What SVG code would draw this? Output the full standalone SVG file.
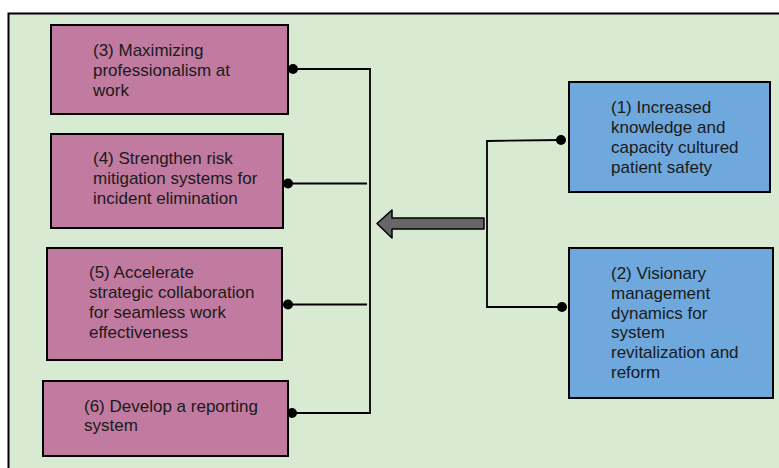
<svg xmlns="http://www.w3.org/2000/svg" width="779" height="468" viewBox="0 0 779 468">
<style>
.pink{fill:#c27ba0;stroke:#000;stroke-width:2}
.blue{fill:#6fa8dc;stroke:#000;stroke-width:2}
text{font-family:"Liberation Sans",Arial,sans-serif;font-size:17px;fill:#1a1a1a}
.ln{fill:none;stroke:#000;stroke-width:1.8}
.dot{fill:#000}
</style>
<rect x="0" y="0" width="779" height="468" fill="#fff"/>
<rect x="8.5" y="13.5" width="790" height="470" fill="#d9ead3" stroke="#000" stroke-width="2"/>
<g id="node3"><rect class="pink" x="51" y="25" width="237" height="89"/>
<text x="93" y="56">(3) Maximizing</text><text x="93" y="76">professionalism at</text><text x="93" y="96">work</text></g>
<g id="node4"><rect class="pink" x="51" y="134" width="232" height="94"/>
<text x="93" y="164">(4) Strengthen risk</text><text x="93" y="184">mitigation systems for</text><text x="93" y="204">incident elimination</text></g>
<g id="node5"><rect class="pink" x="47" y="248" width="235" height="112"/>
<text x="89" y="278">(5) Accelerate</text><text x="89" y="298">strategic collaboration</text><text x="89" y="318">for seamless work</text><text x="89" y="338">effectiveness</text></g>
<g id="node6"><rect class="pink" x="43" y="381" width="245" height="75"/>
<text x="84" y="412">(6) Develop a reporting</text><text x="84" y="431">system</text></g>
<g id="node1"><rect class="blue" x="569" y="82" width="201" height="110"/>
<text x="611" y="113">(1) Increased</text><text x="611" y="133">knowledge and</text><text x="611" y="153">capacity cultured</text><text x="611" y="173">patient safety</text></g>
<g id="node2"><rect class="blue" x="569" y="248" width="204" height="150"/>
<text x="611" y="279">(2) Visionary</text><text x="611" y="299">management</text><text x="611" y="319">dynamics for</text><text x="611" y="338">system</text><text x="611" y="358">revitalization and</text><text x="611" y="378">reform</text></g>
<g id="connectors">
<polyline class="ln" points="293,69 370,69 370,413 292,413"/>
<line class="ln" x1="288" y1="183.5" x2="367" y2="183.5"/>
<line class="ln" x1="288" y1="304.5" x2="367" y2="304.5"/>
<polyline class="ln" points="561,140 487,141 487,307 562,307"/>
<circle class="dot" cx="293" cy="69" r="5"/>
<circle class="dot" cx="288" cy="183.5" r="5"/>
<circle class="dot" cx="288" cy="304.5" r="5"/>
<circle class="dot" cx="292" cy="413" r="5"/>
<circle class="dot" cx="561" cy="140" r="5"/>
<circle class="dot" cx="562" cy="307" r="5"/>
<polygon points="484,218 392,218 392,210 377,223.5 392,238 392,229 484,229" fill="#666" stroke="#000" stroke-width="1.5" stroke-linejoin="round"/>
</g>
</svg>
